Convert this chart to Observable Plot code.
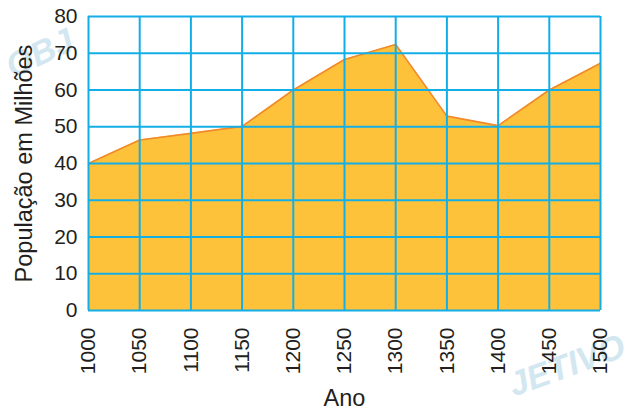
<!DOCTYPE html>
<html>
<head>
<meta charset="utf-8">
<script src="https://cdn.jsdelivr.net/npm/d3@7"></script>
<script src="https://cdn.jsdelivr.net/npm/@observablehq/plot@0.6"></script>
<style>
  html, body { margin: 0; padding: 0; background: #fff; }
  #chart svg { display: block; }
  #chart svg text { font-size: 21px; }
  #chart svg .lbl text { font-size: 23.5px; }
  #chart svg .wm text { font-size: 34px; font-weight: bold; font-style: italic; }
</style>
</head>
<body>
<div id="chart"></div>
<script>
const years = [1000, 1050, 1100, 1150, 1200, 1250, 1300, 1350, 1400, 1450, 1500];
const population = [40, 46.4, 48.2, 50.1, 60, 68.3, 72.4, 52.9, 50.3, 60, 67.3];
const yTicks = [0, 10, 20, 30, 40, 50, 60, 70, 80];
const xLabel = "Ano";
const yLabel = "População em Milhões";
const watermarkTop = "OBJ";
const watermarkBottom = "JETIVO";

const data = years.map((y, i) => ({ year: y, pop: population[i] }));

const gridColor = "#14aee6";

const chart = Plot.plot({
  width: 629,
  height: 409,
  marginLeft: 88,
  marginRight: 29,
  marginTop: 16,
  marginBottom: 99,
  style: { fontFamily: "Liberation Sans, Arial, sans-serif", fontSize: "21px", color: "#231f20", background: "#fff", overflow: "hidden" },
  x: { domain: [1000, 1500], ticks: years, tickFormat: d => String(d), label: null },
  y: { domain: [0, 80], ticks: yTicks, label: null },
  marks: [
    Plot.text([watermarkTop], { frameAnchor: "top-left", dx: -86, dy: 40, rotate: -25, textAnchor: "start", fill: "#d3e7f1", className: "wm" }),
    Plot.text([watermarkBottom], { frameAnchor: "bottom-right", dx: 27, dy: 45, rotate: -20, textAnchor: "end", fill: "#d3e7f1", className: "wm" }),
    Plot.areaY(data, { x: "year", y: "pop", fill: "#fec23a" }),
    Plot.lineY(data, { x: "year", y: "pop", stroke: "#f08a2c", strokeWidth: 1.6 }),
    Plot.ruleX(years, { stroke: gridColor, strokeWidth: 2 }),
    Plot.ruleY(yTicks, { stroke: gridColor, strokeWidth: 2 }),
    Plot.axisX({ ticks: years, tickFormat: d => String(d), tickRotate: -90, tickSize: 0, tickPadding: 17, label: null }),
    Plot.axisY({ ticks: yTicks, tickSize: 0, tickPadding: 11, label: null }),
    Plot.text([xLabel], { frameAnchor: "bottom", dy: 95, text: d => d, className: "lbl" }),
    Plot.text([yLabel], { frameAnchor: "left", dx: -64, rotate: -90, textAnchor: "middle", text: d => d, className: "lbl" })
  ]
});
document.getElementById("chart").appendChild(chart);
</script>
</body>
</html>
